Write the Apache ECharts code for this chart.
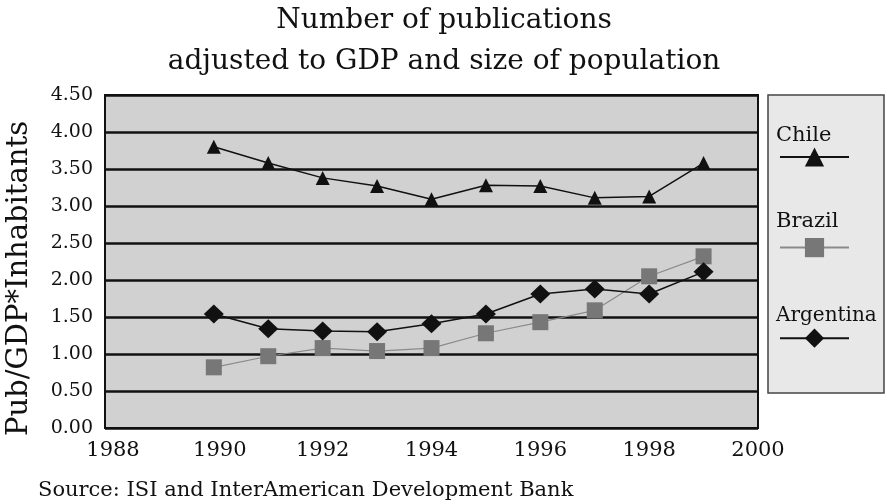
<!DOCTYPE html>
<html>
<head>
<meta charset="utf-8">
<style>
  html, body { margin: 0; padding: 0; background: #fff; }
  #chart { width: 888px; height: 502px; }
</style>
<script src="https://cdn.jsdelivr.net/npm/echarts@6/dist/echarts.min.js"></script>
</head>
<body>
<div id="chart"></div>
<script>
// values
const years = [1990, 1991, 1992, 1993, 1994, 1995, 1996, 1997, 1998, 1999]
const chile = [3.80, 3.58, 3.38, 3.27, 3.09, 3.28, 3.27, 3.11, 3.13, 3.58]
const brazil = [0.82, 0.97, 1.08, 1.04, 1.08, 1.28, 1.43, 1.59, 2.05, 2.32]
const argentina = [1.54, 1.34, 1.31, 1.30, 1.41, 1.54, 1.81, 1.88, 1.81, 2.11]
const seriesNames = ['Chile', 'Brazil', 'Argentina']

const serif = 'DejaVu Serif'

function pairs(vals) {
  return years.map((y, i) => [y, vals[i]])
}

const chart = echarts.init(document.getElementById('chart'))

chart.setOption({
  backgroundColor: '#fff',
  animation: false,
  title: {
    text: 'Number of publications\nadjusted to GDP and size of population',
    left: 'center',
    top: -5,
    textStyle: {
      fontFamily: serif,
      fontWeight: 'normal',
      fontSize: 28,
      lineHeight: 41,
      color: '#111'
    }
  },
  grid: {
    left: 105,
    right: 130,
    top: 95,
    bottom: 74,
    outerBoundsMode: 'none',
    show: true,
    backgroundColor: '#d1d1d1',
    borderColor: '#111',
    borderWidth: 2
  },
  legend: {
    orient: 'vertical',
    left: 779,
    top: 145,
    padding: 0,
    itemWidth: 69,
    itemHeight: 24,
    itemGap: 69,
    formatter: () => '',
    data: seriesNames
  },
  graphic: [
    {
      type: 'rect',
      shape: { x: 768, y: 95, width: 116, height: 298 },
      style: { fill: '#e8e8e8', stroke: '#444', lineWidth: 1.5 },
      z: -1
    },
    {
      type: 'text', left: 776, top: 125,
      style: { text: seriesNames[0], fontFamily: serif, fontSize: 21, fill: '#111' }
    },
    {
      type: 'text', left: 776, top: 211,
      style: { text: seriesNames[1], fontFamily: serif, fontSize: 21, fill: '#111' }
    },
    {
      type: 'text', left: 776, top: 306,
      style: { text: seriesNames[2], fontFamily: serif, fontSize: 20, fill: '#111' }
    },
    {
      type: 'text', left: 38, top: 480,
      style: {
        text: 'Source: ISI and InterAmerican Development Bank',
        fontFamily: serif, fontSize: 21, fill: '#111'
      }
    }
  ],
  xAxis: {
    type: 'value',
    min: 1988,
    max: 2000,
    interval: 2,
    axisLine: { show: false },
    axisTick: { show: false },
    splitLine: { show: false },
    axisLabel: {
      margin: 12,
      fontFamily: serif,
      fontSize: 21,
      color: '#111',
      formatter: v => (v === 1988 ? '{a|' + v + '}' : v === 1990 ? '{b|' + v + '}' : String(v)),
      rich: {
        a: { fontFamily: serif, fontSize: 21, color: '#111', padding: [0, 0, 0, 16] },
        b: { fontFamily: serif, fontSize: 21, color: '#111', padding: [0, 0, 0, 12] }
      }
    }
  },
  yAxis: {
    type: 'value',
    min: 0,
    max: 4.5,
    interval: 0.5,
    name: 'Pub/GDP*Inhabitants',
    nameLocation: 'middle',
    nameGap: 71,
    nameRotate: 90,
    nameTextStyle: { fontFamily: serif, fontSize: 29, color: '#111', padding: [0, 34, 0, 0] },
    axisLine: { show: false },
    axisTick: { show: false },
    splitLine: { lineStyle: { color: '#111', width: 2.5 } },
    axisLabel: {
      margin: 12,
      fontFamily: serif,
      fontSize: 19,
      color: '#111',
      formatter: v => v.toFixed(2)
    }
  },
  series: [
    {
      name: seriesNames[0],
      type: 'line',
      data: pairs(chile),
      symbol: 'triangle',
      symbolSize: 14,
      lineStyle: { color: '#111', width: 1.5 },
      itemStyle: { color: '#111' }
    },
    {
      name: seriesNames[1],
      type: 'line',
      data: pairs(brazil),
      symbol: 'rect',
      symbolSize: 16,
      lineStyle: { color: '#8a8a8a', width: 1.2 },
      itemStyle: { color: '#777' }
    },
    {
      name: seriesNames[2],
      type: 'line',
      data: pairs(argentina),
      symbol: 'diamond',
      symbolSize: [20, 19],
      lineStyle: { color: '#111', width: 1.5 },
      itemStyle: { color: '#111' }
    }
  ]
})
</script>
</body>
</html>
